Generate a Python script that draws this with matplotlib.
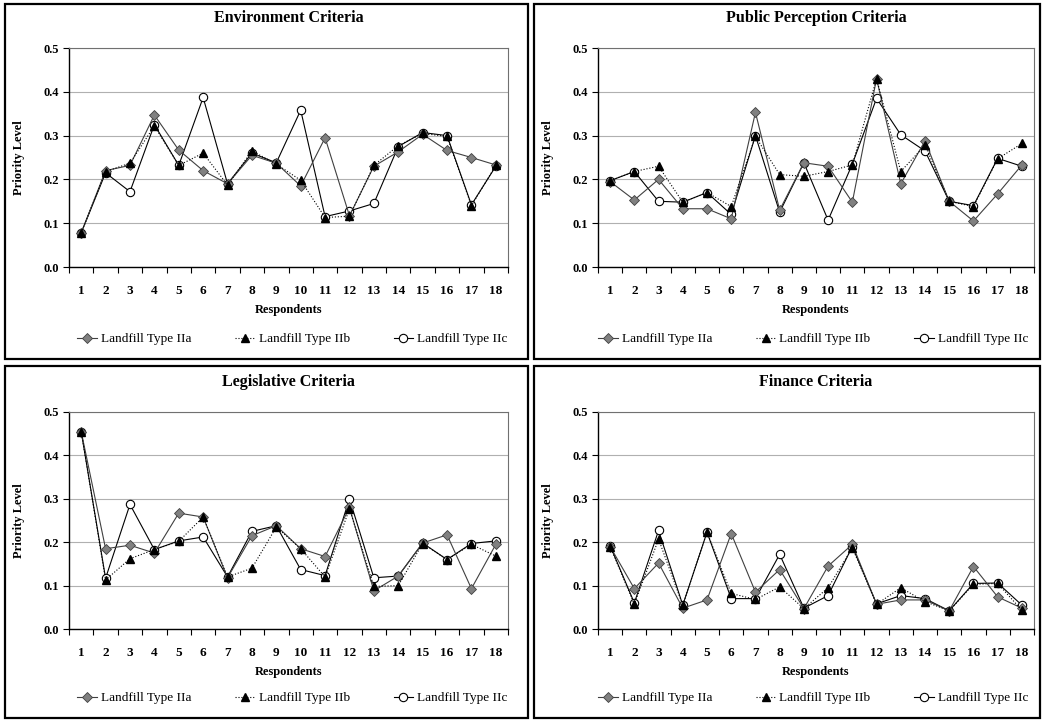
import matplotlib
matplotlib.use('Agg')
import matplotlib.pyplot as plt
from matplotlib.patches import Rectangle

# ---------------------------------------------------------------------------
# data
# ---------------------------------------------------------------------------
respondents = list(range(1, 19))
series_names = ['Landfill Type IIa', 'Landfill Type IIb', 'Landfill Type IIc']

env_a = [0.078, 0.220, 0.232, 0.347, 0.267, 0.220, 0.190, 0.255, 0.237,
         0.185, 0.295, 0.117, 0.230, 0.263, 0.303, 0.266, 0.250, 0.233]
env_b = [0.078, 0.218, 0.237, 0.322, 0.232, 0.260, 0.187, 0.265, 0.235,
         0.198, 0.113, 0.116, 0.232, 0.277, 0.305, 0.298, 0.140, 0.232]
env_c = [0.078, 0.215, 0.172, 0.325, 0.232, 0.387, 0.190, 0.260, 0.238,
         0.358, 0.115, 0.128, 0.145, 0.275, 0.307, 0.300, 0.142, 0.230]

pub_a = [0.195, 0.153, 0.200, 0.133, 0.133, 0.110, 0.353, 0.130, 0.238,
         0.230, 0.148, 0.430, 0.190, 0.288, 0.150, 0.105, 0.167, 0.233]
pub_b = [0.197, 0.218, 0.230, 0.148, 0.170, 0.138, 0.298, 0.211, 0.207,
         0.218, 0.233, 0.430, 0.218, 0.278, 0.150, 0.138, 0.247, 0.282]
pub_c = [0.197, 0.218, 0.150, 0.148, 0.170, 0.120, 0.300, 0.125, 0.238,
         0.107, 0.235, 0.385, 0.302, 0.265, 0.150, 0.140, 0.248, 0.230]

leg_a = [0.455, 0.185, 0.193, 0.175, 0.267, 0.258, 0.118, 0.215, 0.238,
         0.185, 0.167, 0.280, 0.088, 0.122, 0.198, 0.217, 0.093, 0.195]
leg_b = [0.455, 0.113, 0.162, 0.183, 0.202, 0.258, 0.120, 0.140, 0.235,
         0.185, 0.120, 0.277, 0.098, 0.100, 0.197, 0.160, 0.195, 0.168]
leg_c = [0.455, 0.117, 0.287, 0.183, 0.203, 0.212, 0.120, 0.225, 0.238,
         0.137, 0.123, 0.300, 0.118, 0.122, 0.198, 0.160, 0.197, 0.203]

fin_a = [0.190, 0.093, 0.152, 0.048, 0.067, 0.220, 0.085, 0.137, 0.047,
         0.145, 0.195, 0.057, 0.067, 0.067, 0.042, 0.144, 0.074, 0.048]
fin_b = [0.190, 0.057, 0.207, 0.055, 0.223, 0.082, 0.068, 0.097, 0.047,
         0.095, 0.187, 0.057, 0.095, 0.063, 0.042, 0.103, 0.105, 0.043]
fin_c = [0.192, 0.060, 0.227, 0.055, 0.223, 0.070, 0.070, 0.172, 0.048,
         0.077, 0.190, 0.058, 0.077, 0.070, 0.042, 0.105, 0.106, 0.055]

panels = [
    ('Environment Criteria', env_a, env_b, env_c),
    ('Public Perception Criteria', pub_a, pub_b, pub_c),
    ('Legislative Criteria', leg_a, leg_b, leg_c),
    ('Finance Criteria', fin_a, fin_b, fin_c),
]

# ---------------------------------------------------------------------------
# layout (pixels)
# ---------------------------------------------------------------------------
W, H = 1043, 721
plt.rcParams['font.family'] = ['Liberation Serif', 'DejaVu Serif']

fig = plt.figure(figsize=(W / 100, H / 100), dpi=100)

# (box left, box top, box right, box bottom, plot left, plot top, plot right, plot bottom)
layout = [
    (5, 4, 528, 359, 69, 48, 508, 267),
    (534, 4, 1040, 359, 598, 48, 1034, 267),
    (5, 366, 528, 718, 69, 412, 508, 629),
    (534, 366, 1040, 718, 598, 412, 1034, 629),
]


def fx(px):
    return px / W


def fy(py):
    return 1 - py / H


for (title, ya, yb, yc), (bl, bt, br, bb, pl, pt, pr, pb) in zip(panels, layout):
    fig.patches.append(Rectangle((fx(bl), fy(bb)), fx(br - bl), (bb - bt) / H,
                                 transform=fig.transFigure, fill=False,
                                 edgecolor='black', lw=1.6, zorder=0))

    ax = fig.add_axes([fx(pl), fy(pb), fx(pr - pl), (pb - pt) / H])
    ax.plot(respondents, ya, color='#404040', lw=0.8, marker='D', ms=5.5,
            mfc='#808080', mec='#404040', mew=0.6, label=series_names[0], zorder=3)
    ax.plot(respondents, yb, color='black', lw=0.8, ls=':', marker='^', ms=6,
            mfc='black', mec='black', label=series_names[1], zorder=4)
    ax.plot(respondents, yc, color='black', lw=0.8, marker='o', ms=6,
            mfc='white', mec='black', mew=0.8, label=series_names[2], zorder=2)

    ax.set_xlim(0.5, 18.5)
    ax.set_ylim(0, 0.5)
    ax.set_yticks([0.0, 0.1, 0.2, 0.3, 0.4, 0.5])
    ax.set_yticklabels([f'{v:.1f}' for v in [0.0, 0.1, 0.2, 0.3, 0.4, 0.5]],
                       fontweight='bold', fontsize=9)
    ax.set_xticks([x + 0.5 for x in range(0, 19)])
    ax.set_xticklabels([])
    ax.set_xticks(respondents, minor=True)
    ax.set_xticklabels([str(r) for r in respondents], minor=True,
                       fontweight='bold', fontsize=9.5)
    ax.tick_params(axis='x', which='minor', length=0, pad=13)
    ax.tick_params(axis='x', which='major', length=4, direction='out')
    ax.tick_params(axis='y', length=4, direction='out')
    ax.grid(axis='y', color='#b0b0b0', lw=0.8)
    ax.set_axisbelow(True)
    for side in ['top', 'right']:
        ax.spines[side].set_color('#707070')
        ax.spines[side].set_linewidth(0.8)
    for side in ['left', 'bottom']:
        ax.spines[side].set_linewidth(1.0)

    ax.set_xlabel('Respondents', fontweight='bold', fontsize=9, labelpad=5)
    ax.set_ylabel('Priority Level', fontweight='bold', fontsize=9, labelpad=13)
    ax.set_title(title, fontweight='bold', fontsize=11.5, pad=19)

    cx = (bl + br) / 2
    fig.legend(*ax.get_legend_handles_labels(), loc='center',
               bbox_to_anchor=(fx(cx + 26), fy(bb - 20)), ncol=3, frameon=False,
               fontsize=9.5, handlelength=1.5, columnspacing=3.3, handletextpad=0.3)

fig.savefig('out.png', dpi=100)
